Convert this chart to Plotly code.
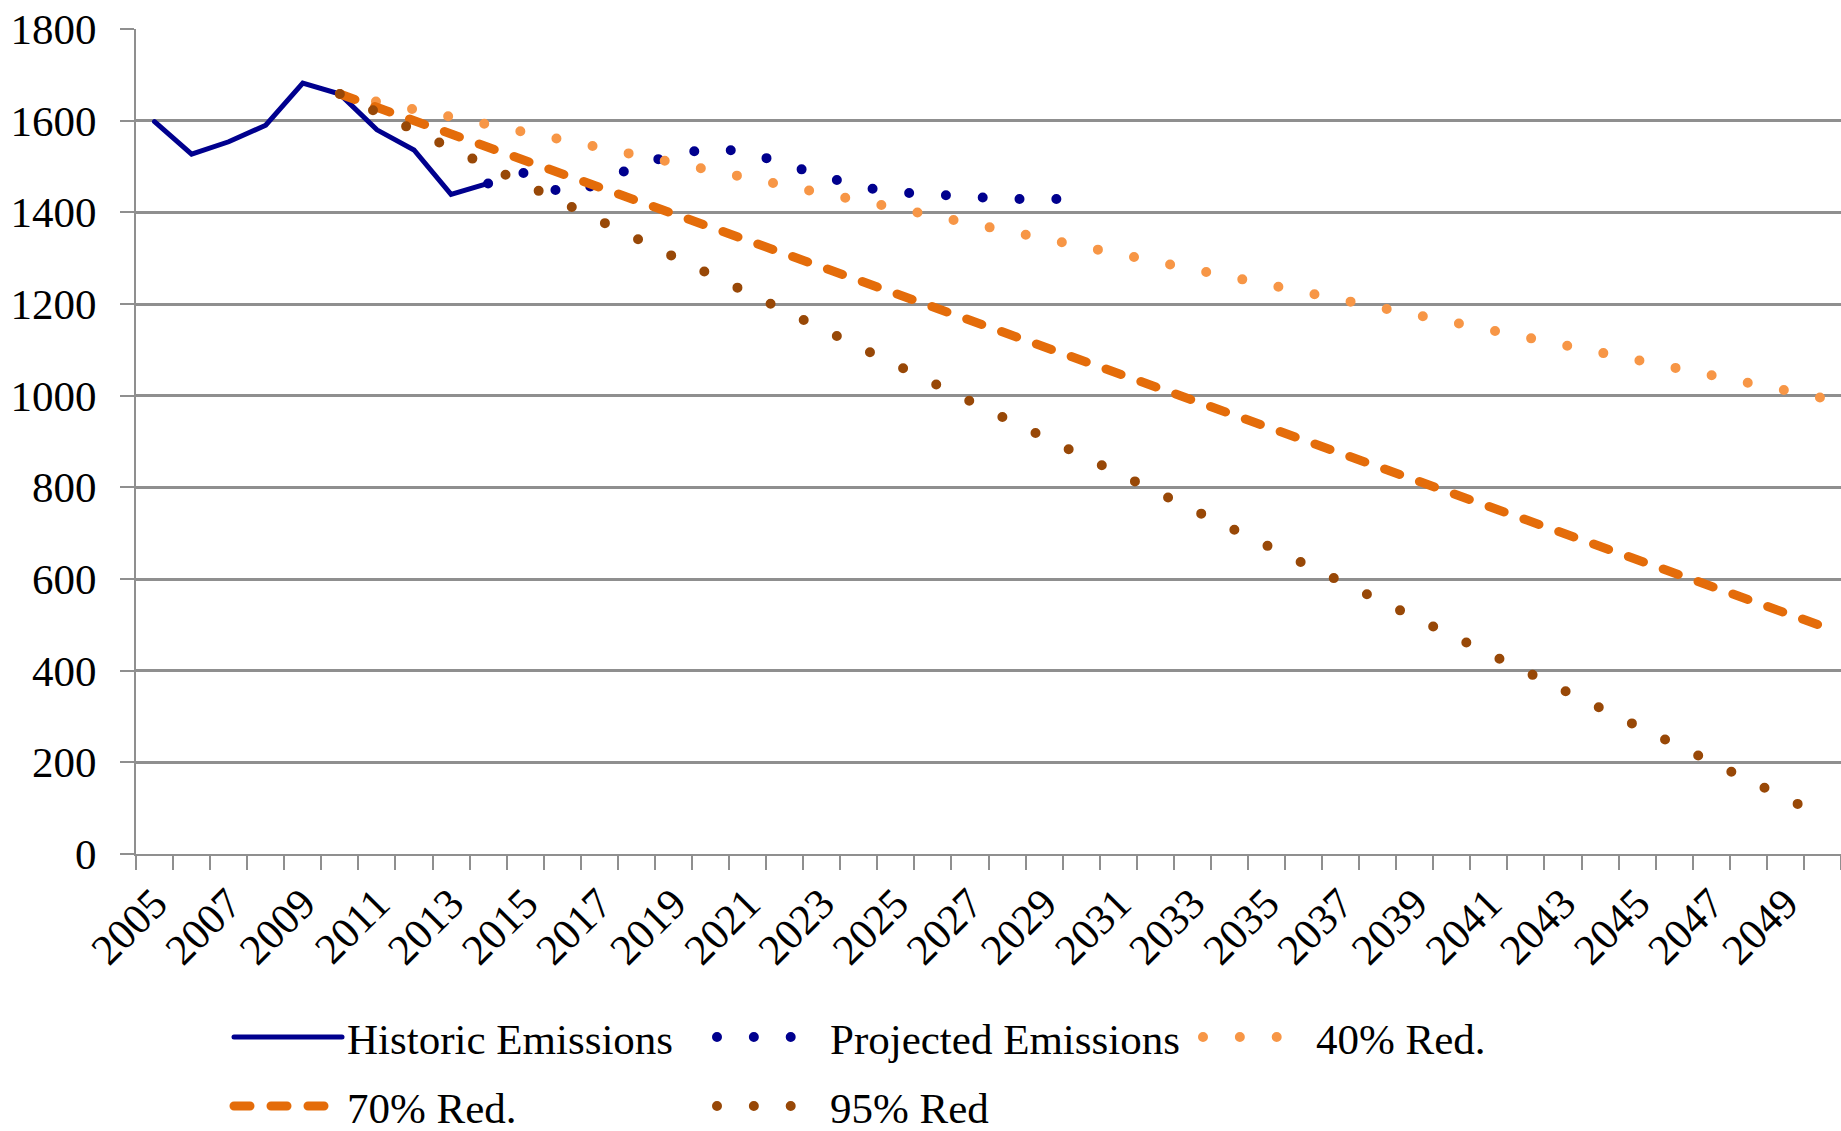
import plotly.graph_objects as go

# ---------------- data ----------------
hist_years = list(range(2005, 2015))
hist_vals = [1598, 1527, 1554, 1590, 1682, 1658, 1580, 1536, 1439, 1463]

proj_years = list(range(2014, 2031))
proj_vals = [1463, 1487, 1440, 1462, 1503, 1525, 1540, 1532, 1505, 1480,
             1456, 1444, 1440, 1431, 1429, 1429, 1429]

red_years = list(range(2010, 2051))
red40_vals = [1658, 1641, 1625, 1608, 1591, 1575, 1558, 1542, 1525, 1509,
              1492, 1475, 1459, 1442, 1426, 1409, 1392, 1376, 1359, 1343,
              1326, 1310, 1293, 1276, 1260, 1243, 1227, 1210, 1193, 1177,
              1160, 1144, 1127, 1111, 1094, 1077, 1061, 1044, 1028, 1011, 995]
red70_vals = [1658, 1629, 1600, 1571, 1542, 1513, 1484, 1455, 1426, 1397,
              1368, 1339, 1310, 1281, 1252, 1223, 1194, 1165, 1136, 1107,
              1078, 1049, 1020, 991, 962, 933, 904, 875, 846, 817,
              788, 759, 730, 701, 672, 643, 614, 585, 556, 527, 497]
red95_vals = [1658, 1619, 1579, 1540, 1500, 1461, 1422, 1382, 1343, 1304,
              1264, 1225, 1185, 1146, 1107, 1067, 1028, 988, 949, 910,
              870, 831, 792, 752, 713, 673, 634, 595, 555, 516,
              476, 437, 398, 358, 319, 280, 240, 201, 161, 122, 83]

tick_years = list(range(2005, 2050, 2))
tick_labels = [str(y) for y in tick_years]
y_ticks = list(range(0, 1801, 200))

# ---------------- style ----------------
FONT = "Liberation Serif"
FS = 43
GRID = "#8F8F8F"
NAVY = "#00008E"
LIGHT_OR = "#F79646"
DARK_OR = "#E46C0A"
BROWN = "#984807"
DOTS = "0px,36.85px"

W, H = 1841, 1131
ML, MR, MT, MB = 136, 0, 29, 277
PW, PH = W - ML - MR, H - MT - MB


def px_x(x):
    return (x - ML) / PW


def px_y(y):
    return (H - MB - y) / PH


fig = go.Figure()
fig.add_trace(go.Scatter(x=hist_years, y=hist_vals, mode="lines", name="Historic Emissions",
                         line=dict(color=NAVY, width=5), legend="legend"))
fig.add_trace(go.Scatter(x=proj_years, y=proj_vals, mode="lines", name="Projected Emissions",
                         line=dict(color=NAVY, width=10, dash=DOTS), legend="legend2"))
fig.add_trace(go.Scatter(x=red_years, y=red40_vals, mode="lines", name="40% Red.",
                         line=dict(color=LIGHT_OR, width=10, dash=DOTS), legend="legend3"))
fig.add_trace(go.Scatter(x=red_years, y=red70_vals, mode="lines", name="70% Red.",
                         line=dict(color=DARK_OR, width=9, dash="16px,21px"), legend="legend4"))
fig.add_trace(go.Scatter(x=red_years, y=red95_vals, mode="lines", name="95% Red",
                         line=dict(color=BROWN, width=10, dash=DOTS), legend="legend5"))

leg_common = dict(orientation="h", xanchor="left", yanchor="middle",
                  font=dict(family=FONT, size=FS, color="black"),
                  bgcolor="rgba(0,0,0,0)", borderwidth=0, itemwidth=108,
                  itemclick=False, itemdoubleclick=False)

row1, row2 = 1037, 1106
fig.update_layout(
    width=W, height=H, showlegend=True,
    margin=dict(l=ML, r=MR, t=MT, b=MB, autoexpand=False),
    paper_bgcolor="white", plot_bgcolor="white",
    font=dict(family=FONT, size=FS, color="black"),
    legend=dict(x=px_x(229), y=px_y(row1), **leg_common),
    legend2=dict(x=px_x(712), y=px_y(row1), **leg_common),
    legend3=dict(x=px_x(1198), y=px_y(row1), **leg_common),
    legend4=dict(x=px_x(229), y=px_y(row2), **leg_common),
    legend5=dict(x=px_x(712), y=px_y(row2), **leg_common),
    xaxis=dict(
        range=[2004.5, 2050.5], showgrid=False, zeroline=False,
        showline=True, linecolor=GRID, linewidth=2,
        tickmode="array", tickvals=tick_years, ticktext=tick_labels,
        tickangle=-45, ticks="outside", ticklen=5, tickcolor="rgba(0,0,0,0)",
        tickfont=dict(family=FONT, size=FS, color="black"),
        minor=dict(ticks="outside", tickmode="linear", tick0=2004.5, dtick=1,
                   ticklen=14, tickwidth=2, tickcolor=GRID, showgrid=False),
    ),
    yaxis=dict(
        range=[0, 1800], tickmode="array", tickvals=y_ticks,
        showgrid=True, gridcolor=GRID, gridwidth=2.5, zeroline=False,
        showline=True, linecolor=GRID, linewidth=2,
        ticks="outside", ticklen=14, tickwidth=2, tickcolor=GRID,
        ticklabelstandoff=15,
        tickfont=dict(family=FONT, size=FS, color="black"),
    ),
)

post = ("document.body.style.margin='0';"
        "var s=document.createElement('style');"
        "s.textContent='.js-line, .legendlines path{stroke-linecap:round !important;}';"
        "document.head.appendChild(s);")
fig.write_html("out.html", post_script=post, config={"displayModeBar": False})
